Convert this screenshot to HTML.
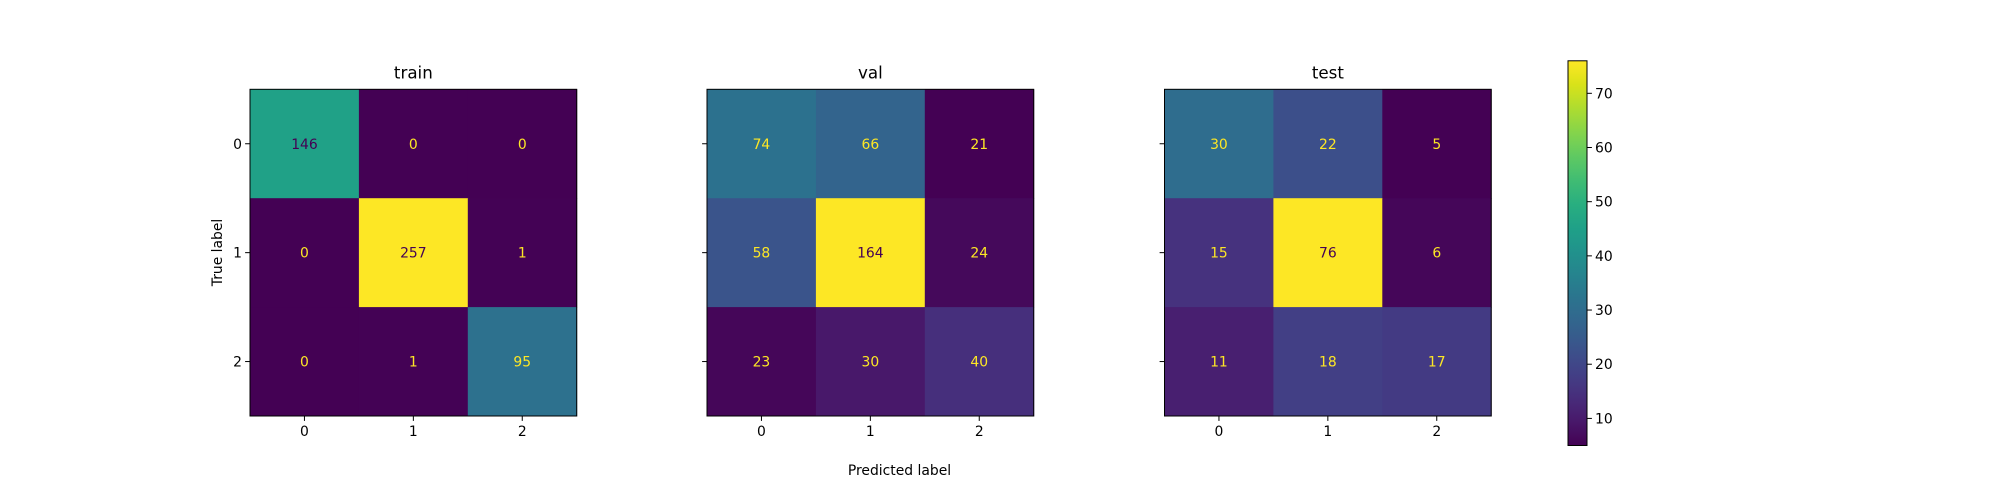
<!DOCTYPE html>
<html><head><meta charset="utf-8"><style>
body{margin:0;background:#fff;}
svg{display:block;font-family:"DejaVu Sans","Liberation Sans",sans-serif;}
</style></head><body>
<svg id="fig" width="2000" height="500" viewBox="0 0 2000 500" xmlns="http://www.w3.org/2000/svg">
<defs>
<linearGradient id="vgrad" x1="0" y1="1" x2="0" y2="0"></linearGradient>
</defs>
</svg>
<script>
const panelTitles = ["train","val","test"];
const classLabels = ["0","1","2"];
const trainValues = [[146,0,0],[0,257,1],[0,1,95]];
const valValues = [[74,66,21],[58,164,24],[23,30,40]];
const testValues = [[30,22,5],[15,76,6],[11,18,17]];
const colorbarTicks = [10,20,30,40,50,60,70];

const stops=["#440154","#48186a","#472d7b","#424086","#3b528b","#33638d","#2c728e","#26828e","#21918c","#1fa088","#28ae80","#3fbc73","#5ec962","#84d44b","#addc30","#d8e219","#fde725"];
function hex(h){return [1,3,5].map(i=>parseInt(h.substr(i,2),16));}
function viridis(t){t=Math.max(0,Math.min(1,t));const f=t*(stops.length-1);const i=Math.min(Math.floor(f),stops.length-2);const r=f-i;const a=hex(stops[i]),b=hex(stops[i+1]);return 'rgb('+a.map((v,k)=>Math.round(v+(b[k]-v)*r)).join(',')+')';}
const NS="http://www.w3.org/2000/svg";
const svg=document.getElementById('fig');
function mk(tag,attrs,parent){const e=document.createElementNS(NS,tag);for(const k in attrs)e.setAttribute(k,attrs[k]);(parent||svg).appendChild(e);return e;}

const panels=[trainValues,valValues,testValues];
const lefts=[250,707,1164.5];
const topY=89.3, size=326.7, cell=size/3;
panels.forEach((m,p)=>{
  const g=mk('g',{});
  
  
  const flat=m.flat();const mn=Math.min(...flat),mx=Math.max(...flat);const thr=(mn+mx)/2;
  const x0=lefts[p];
  m.forEach((row,r)=>row.forEach((v,c)=>{
    const rc=mk('rect',{x:x0+c*cell,y:topY+r*cell,width:cell+0.5,height:cell+0.5,fill:viridis((v-mn)/(mx-mn))},g);
    
    
    const t=mk('text',{x:x0+(c+0.5)*cell,y:topY+(r+0.5)*cell+5,'text-anchor':'middle','font-size':'13.9',fill:v<thr?'#fde725':'#440154'},g);
    t.textContent=v;
    
    
  }));
  const fr=mk('rect',{x:x0,y:topY,width:size,height:size,fill:'none',stroke:'#000','stroke-width':1},g);
  
  
  const tt=mk('text',{x:x0+size/2,y:topY-11,'text-anchor':'middle','font-size':'16.7',fill:'#000'},g);
  tt.textContent=panelTitles[p];
  
  
  classLabels.forEach((lab,i)=>{
    const cx=x0+(i+0.5)*cell;
    mk('line',{x1:cx,y1:topY+size,x2:cx,y2:topY+size+4.9,stroke:'#000'},g);
    const xt=mk('text',{x:cx,y:topY+size+20,'text-anchor':'middle','font-size':'13.9',fill:'#000'},g);
    xt.textContent=lab;
    
    
    const yy=topY+(i+0.5)*cell;
    mk('line',{x1:x0,y1:yy,x2:x0-4.9,y2:yy,stroke:'#000'},g);
    if(p===0){
      const yt=mk('text',{x:x0-8,y:yy+5,'text-anchor':'end','font-size':'13.9',fill:'#000'},g);
      yt.textContent=lab;
      
      
    }
  });
});
const yl=mk('text',{x:0,y:0,transform:'translate(222,252.5) rotate(-90)','text-anchor':'middle','font-size':'13.9',fill:'#000'});
yl.textContent='True label';


const xl=mk('text',{x:899.5,y:475,'text-anchor':'middle','font-size':'13.9',fill:'#000'});
xl.textContent='Predicted label';



const cmin=Math.min(...testValues.flat()),cmax=Math.max(...testValues.flat());
const grad=document.getElementById('vgrad');
for(let i=0;i<=32;i++){mk('stop',{offset:(i/32),'stop-color':viridis(i/32)},grad);}
const cbT=60.8,cbB=445.5,cbL=1568,cbW=19;
const cb=mk('rect',{x:cbL,y:cbT,width:cbW,height:cbB-cbT,fill:'url(#vgrad)',stroke:'#000','stroke-width':1});


function cbY(v){return cbB-(v-cmin)/(cmax-cmin)*(cbB-cbT);}
colorbarTicks.forEach(v=>{
  const y=cbY(v);
  mk('line',{x1:cbL+cbW,y1:y,x2:cbL+cbW+4.9,y2:y,stroke:'#000'});
  const t=mk('text',{x:cbL+cbW+8,y:y+5,'font-size':'13.9',fill:'#000'});
  t.textContent=v;
  
  
});
</script>
</body></html>
